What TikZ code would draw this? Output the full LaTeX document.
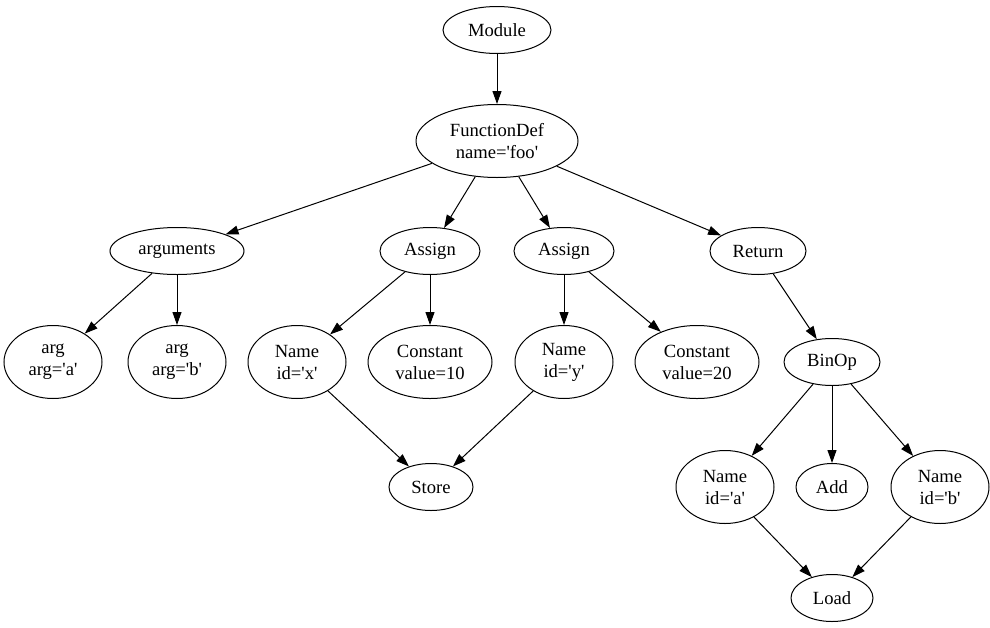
\documentclass[tikz,border=0pt]{standalone}
\usepackage{fontspec}
\setmainfont{Liberation Serif}
\usepackage{tikz}
\usetikzlibrary{shapes.geometric, arrows.meta}
\newcommand{\q}{\textquotesingle}

\begin{document}
\begin{tikzpicture}[
    x=1pt, y=-1pt,
    ast/.style={ellipse, draw, line width=1pt, inner sep=0pt, minimum height=47pt, align=center, font=\fontsize{18.6}{22}\selectfont},
    ast2/.style={ast, minimum height=73pt},
    arrow/.style={-{Triangle[length=13pt, width=9pt]}, line width=1pt}
]
    \useasboundingbox (0,0) rectangle (990,627);
    % top of the tree
    \node[ast, minimum width=108pt] (module) at (497,30) {Module};
    \node[ast2, minimum width=162pt] (funcdef) at (497,141) {FunctionDef\\name=\q foo\q};
    % second row
    \node[ast, minimum width=134pt] (arguments) at (177,251) {arguments};
    \node[ast, minimum width=100pt] (assignx) at (430,251) {Assign};
    \node[ast, minimum width=100pt] (assigny) at (564,251) {Assign};
    \node[ast, minimum width=96pt] (return) at (758,251) {Return};
    % third row
    \node[ast2, minimum width=98pt] (arga) at (53,362) {arg\\arg=\q a\q};
    \node[ast2, minimum width=98pt] (argb) at (177,362) {arg\\arg=\q b\q};
    \node[ast2, minimum width=98pt] (namex) at (297,362) {Name\\id=\q x\q};
    \node[ast2, minimum width=124pt] (constten) at (430,362) {Constant\\value=10};
    \node[ast2, minimum width=98pt] (namey) at (564,362) {Name\\id=\q y\q};
    \node[ast2, minimum width=124pt] (consttwenty) at (697,362) {Constant\\value=20};
    \node[ast, minimum width=96pt] (binop) at (832,362) {BinOp};
    % fourth row
    \node[ast, minimum width=84pt] (store) at (431,487) {Store};
    \node[ast2, minimum width=98pt] (namea) at (725,487) {Name\\id=\q a\q};
    \node[ast, minimum width=72pt] (add) at (832,487) {Add};
    \node[ast2, minimum width=98pt] (nameb) at (940,487) {Name\\id=\q b\q};
    % bottom
    \node[ast, minimum width=82pt] (load) at (832,598) {Load};

    \draw[arrow] (module) -- (funcdef);
    \draw[arrow] (funcdef) -- (arguments);
    \draw[arrow] (funcdef) -- (assignx);
    \draw[arrow] (funcdef) -- (assigny);
    \draw[arrow] (funcdef) -- (return);
    \draw[arrow] (arguments) -- (arga);
    \draw[arrow] (arguments) -- (argb);
    \draw[arrow] (assignx) -- (namex);
    \draw[arrow] (assignx) -- (constten);
    \draw[arrow] (assigny) -- (namey);
    \draw[arrow] (assigny) -- (consttwenty);
    \draw[arrow] (return) -- (binop);
    \draw[arrow] (namex) -- (store);
    \draw[arrow] (namey) -- (store);
    \draw[arrow] (binop) -- (namea);
    \draw[arrow] (binop) -- (add);
    \draw[arrow] (binop) -- (nameb);
    \draw[arrow] (namea) -- (load);
    \draw[arrow] (nameb) -- (load);
\end{tikzpicture}
\end{document}
